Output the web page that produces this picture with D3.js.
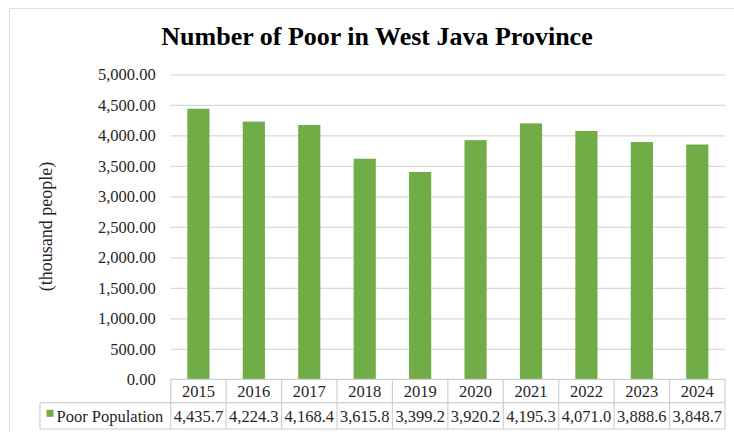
<!DOCTYPE html>
<html>
<head>
<meta charset="utf-8">
<script src="https://cdn.jsdelivr.net/npm/d3@7"></script>
<style>
  html, body { margin: 0; padding: 0; background: #fff; }
  svg { display: block; }
</style>
</head>
<body>
<svg id="chart" width="734" height="432"></svg>
<script>
// Poor population in West Java (thousand people), 2015–2024
const years = ["2015", "2016", "2017", "2018", "2019", "2020", "2021", "2022", "2023", "2024"];
const poorPopulation = [4435.7, 4224.3, 4168.4, 3615.8, 3399.2, 3920.2, 4195.3, 4071.0, 3888.6, 3848.7];
const yTicks = [0, 500, 1000, 1500, 2000, 2500, 3000, 3500, 4000, 4500, 5000];
const seriesName = "Poor Population";
const chartTitle = "Number of Poor in West Java Province";
const yAxisTitle = "(thousand people)";

const SERIF = "'Liberation Serif', 'Times New Roman', serif";
const svg = d3.select("#chart");
const W = 734, H = 432;
const plotL = 170.7, plotR = 725, plotT = 74.3, plotB = 379.3;
const row1B = 402.7, row2B = 429, legendL = 40;
const gridColor = "#d9d9d9", tableColor = "#d0d0d0", barColor = "#70ad47", textColor = "#262626";

function serif(sel, size) {
  return sel.style("font-family", SERIF).style("font-size", size + "px").style("fill", textColor);
}

// outer chart frame
svg.append("path")
  .attr("d", `M9.5,${H} V8.5 H${W}`)
  .attr("fill", "none").attr("stroke", "#e0e0e0").attr("stroke-width", 1);

const x = d3.scaleBand().domain(years).range([plotL, plotR]).paddingInner(0.6).paddingOuter(0.3);
const cell = d3.scaleBand().domain(years).range([plotL, plotR]).padding(0);
const y = d3.scaleLinear().domain([0, 5000]).range([plotB, plotT]);

// horizontal gridlines
const grid = svg.append("g")
  .attr("transform", `translate(${plotL},0)`)
  .call(d3.axisLeft(y).tickValues(yTicks.filter(v => v > 0)).tickSize(-(plotR - plotL)).tickFormat(""));
grid.select(".domain").remove();
grid.selectAll("line").attr("stroke", gridColor).attr("stroke-width", 1.2);

// value axis labels
const yAxis = svg.append("g")
  .attr("transform", `translate(${plotL},0)`)
  .call(d3.axisLeft(y).tickValues(yTicks).tickSize(0).tickPadding(15).tickFormat(d3.format(",.2f")));
yAxis.select(".domain").remove();
serif(yAxis.selectAll("text"), 16.5);

// bars
svg.append("g").selectAll("rect")
  .data(years.map((yr, i) => ({ yr, v: poorPopulation[i] })))
  .join("rect")
  .attr("x", d => x(d.yr))
  .attr("width", x.bandwidth())
  .attr("y", d => y(d.v))
  .attr("height", d => y(0) - y(d.v))
  .attr("fill", barColor);

// data table under the plot
const table = svg.append("g").attr("stroke", tableColor).attr("stroke-width", 1.2);
table.append("line").attr("x1", plotL).attr("x2", plotR).attr("y1", plotB).attr("y2", plotB);
table.append("line").attr("x1", legendL).attr("x2", plotR).attr("y1", row1B).attr("y2", row1B);
table.append("line").attr("x1", legendL).attr("x2", plotR).attr("y1", row2B).attr("y2", row2B);
table.append("line").attr("x1", legendL).attr("x2", legendL).attr("y1", row1B).attr("y2", row2B);
table.selectAll("line.col")
  .data(years.map(yr => cell(yr)).concat([plotR]))
  .join("line").attr("class", "col")
  .attr("x1", d => d).attr("x2", d => d)
  .attr("y1", plotB).attr("y2", row2B);

serif(svg.append("g").selectAll("text")
  .data(years)
  .join("text")
  .attr("x", d => cell(d) + cell.bandwidth() / 2)
  .attr("y", 396.7)
  .attr("text-anchor", "middle")
  .text(d => d), 16.5);

serif(svg.append("g").selectAll("text")
  .data(years.map((yr, i) => ({ yr, v: poorPopulation[i] })))
  .join("text")
  .attr("x", d => cell(d.yr) + cell.bandwidth() / 2)
  .attr("y", 421.7)
  .attr("text-anchor", "middle")
  .text(d => d3.format(",.1f")(d.v)), 16.5);

// legend key in the table
svg.append("rect").attr("x", 46.5).attr("y", 409.8).attr("width", 7).attr("height", 7).attr("fill", barColor);
serif(svg.append("text").attr("x", 56.5).attr("y", 421.7).text(seriesName), 16.5);

// titles
serif(svg.append("text")
  .attr("x", 377).attr("y", 45)
  .attr("text-anchor", "middle")
  .text(chartTitle), 26)
  .style("font-weight", "bold").style("fill", "#000");

serif(svg.append("text")
  .attr("transform", "translate(51.5,226.5) rotate(-90)")
  .attr("text-anchor", "middle")
  .text(yAxisTitle), 18);
</script>
</body>
</html>
